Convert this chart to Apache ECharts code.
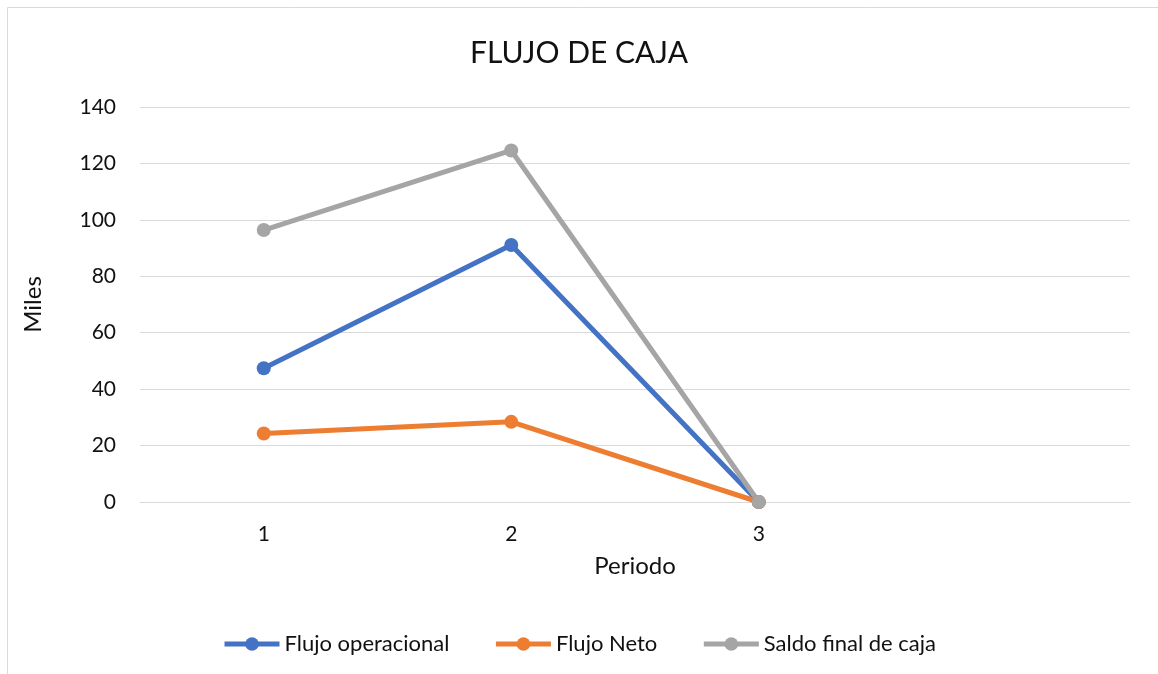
<!DOCTYPE html>
<html>
<head>
<meta charset="utf-8">
<script src="https://cdn.jsdelivr.net/npm/echarts@6/dist/echarts.min.js"></script>
<style>
  html, body { margin: 0; padding: 0; background: #fff; }
  #chart { width: 1158px; height: 674px; }
</style>
</head>
<body>
<div id="chart"></div>
<script>
// periodos (el 4to queda vacío, como en el original)
const periodos = ['1', '2', '3', '']
const flujoOperacional = [47.4, 91.1, 0]
const flujoNeto = [24.3, 28.4, 0]
const saldoFinal = [96.4, 124.6, 0]

const FONT = 'Lato, "Open Sans", sans-serif'
const chart = echarts.init(document.getElementById('chart'))

const serie = (name, data, color) => ({
  name,
  type: 'line',
  data,
  symbol: 'circle',
  symbolSize: 14,
  itemStyle: { color },
  lineStyle: { color, width: 5 },
  emphasis: { disabled: true }
})

chart.setOption({
  animation: false,
  textStyle: { fontFamily: FONT },
  graphic: [{
    type: 'rect',
    shape: { x: 7.5, y: 7.5, width: 1160, height: 680 },
    style: { fill: 'none', stroke: '#d9d9d9', lineWidth: 1 }
  }],
  title: {
    text: 'FLUJO DE CAJA',
    left: 'center',
    top: 33,
    textStyle: { fontFamily: FONT, fontSize: 30, fontWeight: 'normal', color: '#111' }
  },
  legend: {
    bottom: 14,
    left: 'center',
    itemWidth: 55,
    itemHeight: 17,
    itemGap: 44,
    lineStyle: { width: 5 },
    textStyle: { fontFamily: FONT, fontSize: 22, color: '#111' },
    data: ['Flujo operacional', 'Flujo Neto', 'Saldo final de caja']
  },
  grid: { left: 140, right: 28, top: 107, bottom: 172 },
  xAxis: {
    type: 'category',
    data: periodos,
    boundaryGap: true,
    name: 'Periodo',
    nameLocation: 'middle',
    nameGap: 52,
    nameTextStyle: { fontFamily: FONT, fontSize: 24, color: '#111' },
    axisLine: { lineStyle: { color: '#d9d9d9' } },
    axisTick: { show: false },
    axisLabel: { fontFamily: FONT, fontSize: 21, color: '#111', margin: 22 }
  },
  yAxis: {
    type: 'value',
    min: 0,
    max: 140,
    interval: 20,
    name: 'Miles',
    nameLocation: 'middle',
    nameGap: 95,
    nameTextStyle: { fontFamily: FONT, fontSize: 24, color: '#111' },
    axisLine: { show: false },
    axisTick: { show: false },
    axisLabel: { fontFamily: FONT, fontSize: 21, color: '#111', margin: 24 },
    splitLine: { lineStyle: { color: '#d9d9d9', width: 1 } }
  },
  series: [
    serie('Flujo operacional', flujoOperacional, '#4472c4'),
    serie('Flujo Neto', flujoNeto, '#ed7d31'),
    serie('Saldo final de caja', saldoFinal, '#a5a5a5')
  ]
})
</script>
</body>
</html>
